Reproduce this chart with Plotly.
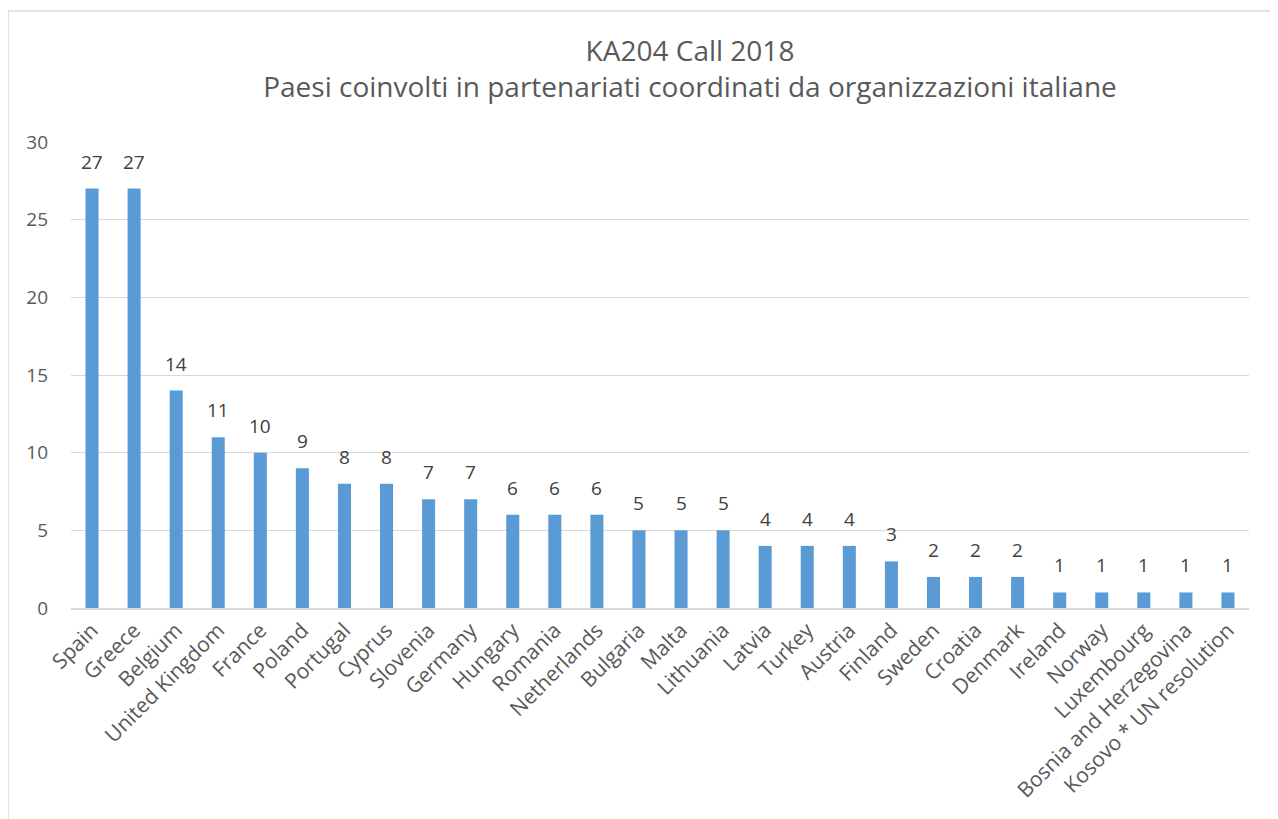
import plotly.graph_objects as go

countries = ["Spain", "Greece", "Belgium", "United Kingdom", "France", "Poland", "Portugal",
             "Cyprus", "Slovenia", "Germany", "Hungary", "Romania", "Netherlands", "Bulgaria",
             "Malta", "Lithuania", "Latvia", "Turkey", "Austria", "Finland", "Sweden", "Croatia",
             "Denmark", "Ireland", "Norway", "Luxembourg", "Bosnia and Herzegovina",
             "Kosovo * UN resolution"]
values = [27, 27, 14, 11, 10, 9, 8, 8, 7, 7, 6, 6, 6, 5, 5, 5, 4, 4, 4, 3, 2, 2, 2, 1, 1, 1, 1, 1]
y_ticks = [0, 5, 10, 15, 20, 25, 30]

FONT = "Open Sans"
OFF = 8  # page body margin
W, H = 1278 - OFF, 819 - OFF
L = 71 - OFF
T = 142 - OFF
R = W - (1249 - OFF)
B = H - (608 - OFF)
pw = W - L - R
ph = H - T - B

fig = go.Figure()
fig.add_trace(go.Bar(
    x=countries, y=values,
    marker=dict(color="#5b9bd5", line=dict(width=0)),
    hoverinfo="x+y",
))

annotations = [
    dict(x=c, y=v, xref="x", yref="y", text=str(v), showarrow=False,
         yanchor="bottom", yshift=12,
         font=dict(family=FONT, size=19, color="#404040"))
    for c, v in zip(countries, values)
]

def px_x(x):
    return (x - OFF - L) / pw

def px_y(y):
    return (H + OFF - B - y) / ph

fig.update_layout(
    width=W, height=H,
    margin=dict(l=L, r=R, t=T, b=B, autoexpand=False),
    paper_bgcolor="white", plot_bgcolor="white",
    font=dict(family=FONT, color="#595959"),
    bargap=0.69,
    showlegend=False,
    annotations=annotations,
    title=dict(
        text="KA204 Call 2018<br>Paesi coinvolti in partenariati coordinati da organizzazioni italiane",
        x=(690 - OFF) / W, xanchor="center", y=1 - (61 - OFF) / H, yanchor="middle",
        font=dict(family=FONT, size=28, color="#595959"),
    ),
    xaxis=dict(
        tickangle=-45, tickfont=dict(family=FONT, size=21, color="#595959"),
        showgrid=False, showline=True, linecolor="#d9d9d9", linewidth=1.5,
        ticks="", range=[-0.5, len(countries) - 0.5], automargin=False,
    ),
    yaxis=dict(
        range=[0, 30], tickvals=y_ticks,
        tickfont=dict(family=FONT, size=19, color="#595959"),
        showgrid=True, gridcolor="#d9d9d9", gridwidth=1,
        zeroline=False, showline=False, ticks="", ticklabelstandoff=22, automargin=False,
    ),
    shapes=[dict(
        type="rect", xref="paper", yref="paper",
        x0=px_x(8), x1=px_x(1274), y0=px_y(840), y1=px_y(11),
        line=dict(color="#d9d9d9", width=1.5), fillcolor="rgba(0,0,0,0)", layer="below",
    )],
)

fig.write_html("out.html")
